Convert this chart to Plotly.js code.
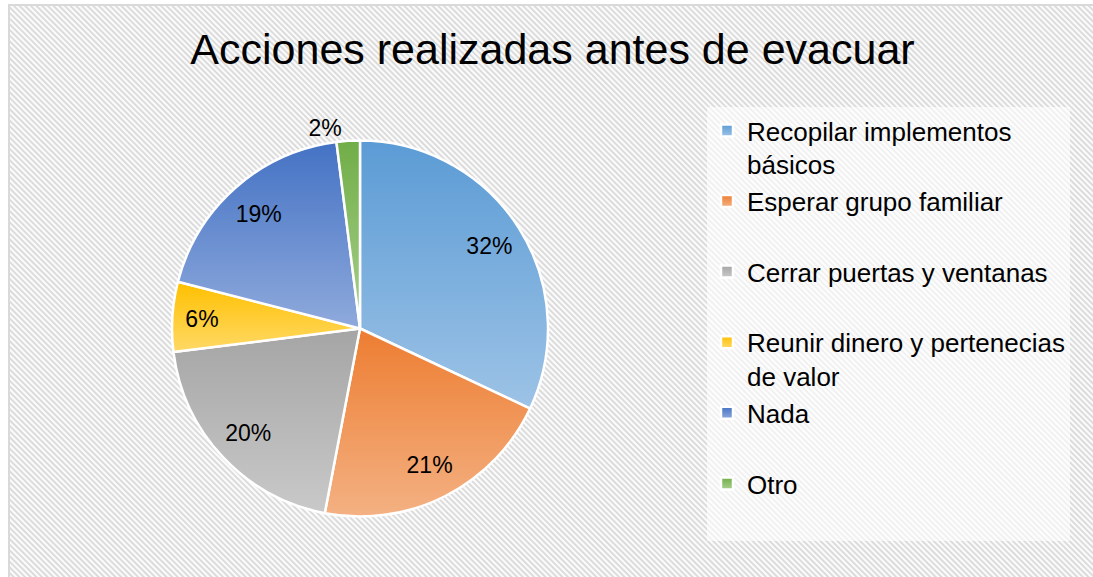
<!DOCTYPE html>
<html>
<head>
<meta charset="utf-8">
<script src="https://cdn.plot.ly/plotly-3.0.1.min.js"></script>
<style>
  html, body { margin: 0; padding: 0; background: #ffffff; }
  #frame {
    position: absolute; left: 8px; top: 4px; width: 1085px; height: 573px;
    border-left: 2px solid #d9d9d9; border-top: 2px solid #d9d9d9;
    box-sizing: border-box;
    background: repeating-linear-gradient(45deg, #fafafa 0px, #fafafa 1.2px, #dadada 2.2px, #dadada 3px, #fafafa 4px);
  }
  #chart { position: absolute; left: 0; top: 0; width: 1093px; height: 577px; }
</style>
</head>
<body>
<div id="frame"></div>
<div id="chart"></div>
<script>
const title = 'Acciones realizadas antes de evacuar';
const categories = [
  'Recopilar implementos<br>básicos',
  'Esperar grupo familiar<br> ',
  'Cerrar puertas y ventanas<br> ',
  'Reunir dinero y pertenecias<br>de valor',
  'Nada<br> ',
  'Otro<br> '
];
const values = [32, 21, 20, 6, 19, 2];
const colorsTop = ['#5b9bd5', '#ed7d31', '#a5a5a5', '#ffc000', '#4472c4', '#70ad47'];
const colorsBottom = ['#9dc3e6', '#f4b183', '#c9c9c9', '#ffd966', '#8faadc', '#a9d18e'];
const colorsMid = ['#7cafde', '#f1975a', '#b7b7b7', '#ffcc33', '#6a8fd0', '#8cbf6a'];
// label placement: main pie shows only the outside label, ring overlay shows inside labels
const outerTextPos = ['none', 'none', 'none', 'none', 'none', 'outside'];
const ringTextPos = ['inside', 'inside', 'inside', 'inside', 'inside', 'none'];

const W = 1093, H = 577;
const cx = 360, cy = 328.5, R = 188;
const FONT = 'Liberation Sans, Arial, sans-serif';
const dom = { x: [(cx - R) / W, (cx + R) / W], y: [(H - cy - R) / H, (H - cy + R) / H] };

const data = [{
  type: 'pie',
  labels: categories,
  values: values,
  sort: false,
  direction: 'clockwise',
  rotation: 0,
  marker: { colors: colorsMid, line: { color: '#ffffff', width: 2.5 } },
  textinfo: 'percent',
  textposition: outerTextPos,
  outsidetextfont: { family: FONT, size: 23, color: '#000000' },
  domain: dom,
  hoverinfo: 'label+percent'
}, {
  type: 'pie',
  labels: categories,
  values: values,
  sort: false,
  direction: 'clockwise',
  rotation: 0,
  hole: 0.63,
  showlegend: false,
  marker: { colors: values.map(function () { return 'rgba(0,0,0,0)'; }), line: { width: 0 } },
  textinfo: 'percent',
  textposition: ringTextPos,
  insidetextorientation: 'horizontal',
  insidetextfont: { family: FONT, size: 23, color: '#000000' },
  domain: dom,
  hoverinfo: 'skip'
}];

const layout = {
  width: W, height: H,
  margin: { l: 0, r: 0, t: 0, b: 0 },
  paper_bgcolor: 'rgba(0,0,0,0)',
  plot_bgcolor: 'rgba(0,0,0,0)',
  title: {
    text: title,
    font: { family: FONT, size: 43, color: '#000000' },
    x: 552.5 / W, xanchor: 'center', xref: 'container',
    y: 1 - 48.5 / H, yanchor: 'middle', yref: 'container'
  },
  showlegend: true,
  legend: {
    x: 707 / W, xanchor: 'left',
    y: 1 - 107 / H, yanchor: 'top',
    valign: 'top',
    bgcolor: 'rgba(255,255,255,0.6)',
    font: { family: FONT, size: 26, color: '#000000' },
    traceorder: 'normal'
  }
};

Plotly.newPlot('chart', data, layout, { displayModeBar: false, staticPlot: true }).then(function (gd) {
  const svg = gd.querySelector('svg.main-svg');
  const ns = 'http://www.w3.org/2000/svg';
  let defs = svg.querySelector('defs');
  if (!defs) { defs = document.createElementNS(ns, 'defs'); svg.insertBefore(defs, svg.firstChild); }
  colorsTop.forEach(function (c, i) {
    const lg = document.createElementNS(ns, 'linearGradient');
    lg.setAttribute('id', 'sliceGrad' + i);
    lg.setAttribute('x1', '0'); lg.setAttribute('y1', '0');
    lg.setAttribute('x2', '0'); lg.setAttribute('y2', '1');
    const s1 = document.createElementNS(ns, 'stop');
    s1.setAttribute('offset', '0'); s1.setAttribute('stop-color', c);
    const s2 = document.createElementNS(ns, 'stop');
    s2.setAttribute('offset', '1'); s2.setAttribute('stop-color', colorsBottom[i]);
    lg.appendChild(s1); lg.appendChild(s2);
    defs.appendChild(lg);
  });
  const firstTrace = gd.querySelector('g.pielayer g.trace');
  if (firstTrace) {
    firstTrace.querySelectorAll('g.slice').forEach(function (g, i) {
      const p = g.querySelector('path.surface');
      if (p) p.style.fill = 'url(#sliceGrad' + i + ')';
    });
  }
  gd.querySelectorAll('g.legend g.traces').forEach(function (g, i) {
    g.querySelectorAll('.legendpoints path').forEach(function (p) {
      p.style.fill = 'url(#sliceGrad' + i + ')';
    });
  });
});
</script>
</body>
</html>
